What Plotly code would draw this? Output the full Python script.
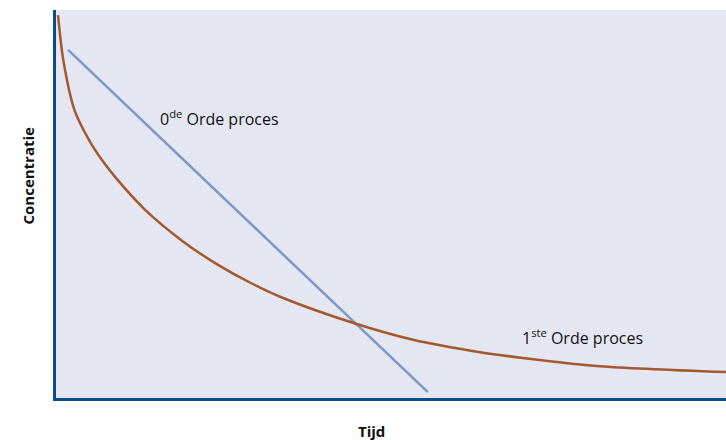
import plotly.graph_objects as go

# Zero-order process (straight line)
zero_x = [1.8, 55.5]
zero_y = [89.7, 1.5]

# First-order process (decaying curve)
first_x = [0.3, 1.1, 2.8, 5.0, 7.0, 9.1, 13.3, 19.0, 24.0, 29.0, 34.0,
           45.0, 53.3, 63.3, 69.3, 81.2, 100]
first_y = [98.7, 87.0, 74.0, 66.3, 61.0, 56.4, 48.5, 40.3, 34.5, 29.7, 25.7,
           19.0, 15.0, 11.8, 10.4, 8.2, 6.7]

labels = ["0<sup>de</sup> Orde proces", "1<sup>ste</sup> Orde proces"]
label_x = [15.2, 69.2]
label_y = [72.2, 15.8]

fig = go.Figure()
fig.add_trace(go.Scatter(x=zero_x, y=zero_y, mode="lines",
                         line=dict(color="#7f95c6", width=2.5), hoverinfo="skip"))
fig.add_trace(go.Scatter(x=first_x, y=first_y, mode="lines",
                         line=dict(color="#a3582f", width=2.5, shape="spline", smoothing=0.8),
                         hoverinfo="skip"))

for t, x, y in zip(labels, label_x, label_y):
    fig.add_annotation(x=x, y=y, text=t, showarrow=False, xanchor="left", yanchor="middle",
                       font=dict(family="Open Sans", size=16, color="#111111"))

fig.add_annotation(xref="paper", yref="paper", x=0.4716, y=-0.085, text="<b>Tijd</b>",
                   showarrow=False, xanchor="center", yanchor="middle",
                   font=dict(family="Open Sans", size=15, color="#111111"))
fig.add_annotation(xref="paper", yref="paper", x=-0.042, y=0.573, text="<b>Concentratie</b>",
                   showarrow=False, textangle=-90, xanchor="center", yanchor="middle",
                   font=dict(family="Open Sans", size=15, color="#111111"))

fig.update_layout(
    width=726, height=440,
    margin=dict(l=56, r=0, t=10, b=42),
    paper_bgcolor="white", plot_bgcolor="#e4e7f1",
    showlegend=False,
    hovermode=False,
    xaxis=dict(range=[0, 100], showgrid=False, zeroline=False, showticklabels=False,
               ticks="", showline=True, linecolor="#0d4a8e", linewidth=3),
    yaxis=dict(range=[0, 100], showgrid=False, zeroline=False, showticklabels=False,
               ticks="", showline=True, linecolor="#0d4a8e", linewidth=3),
)
fig.write_html("out.html",
               config={"displayModeBar": False},
               post_script="document.body.style.margin='0';document.body.style.overflow='hidden';")
